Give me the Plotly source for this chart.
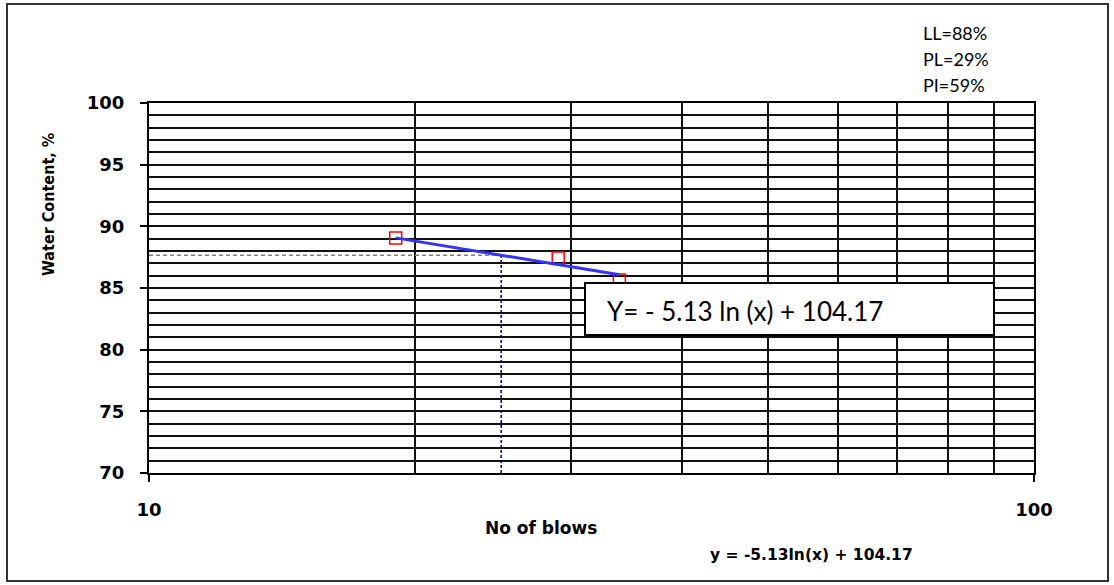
import plotly.graph_objects as go

# Data
blows = [19, 29, 34]
water_content = [89.05, 87.43, 85.65]

slope = -5.13
intercept = 104.17
ll_blows = 25

import math
trend_x = [blows[0], blows[-1]]
trend_y = [slope * math.log(v) + intercept for v in trend_x]
ll_value = slope * math.log(ll_blows) + intercept

x_major = [10, 100]
x_minor = [20, 30, 40, 50, 60, 70, 80, 90]

W, H = 1114, 585
L, R, T, B = 149, 80, 103, 112
PW, PH = W - L - R, H - T - B


def px(x):
    return (x - L) / PW


def py(y):
    return (H - B - y) / PH


fig = go.Figure()

fig.add_trace(go.Scatter(
    x=[10, ll_blows], y=[ll_value, ll_value], mode="lines",
    line=dict(color="#808080", width=1.5, dash="4px,3px"),
    showlegend=False, hoverinfo="skip"))
fig.add_trace(go.Scatter(
    x=[ll_blows, ll_blows], y=[70, ll_value], mode="lines",
    line=dict(color="#000080", width=1.5, dash="3px,2px"),
    showlegend=False, hoverinfo="skip"))
fig.add_trace(go.Scatter(
    x=blows, y=water_content, mode="markers",
    marker=dict(symbol="square-open", size=12, color="red",
                line=dict(color="red", width=1.5)),
    showlegend=False))
fig.add_trace(go.Scatter(
    x=trend_x, y=trend_y, mode="lines",
    line=dict(color="#3333ff", width=3),
    showlegend=False))

grid = "#111111"
fig.update_xaxes(
    type="log", range=[1, 2],
    tickmode="array", tickvals=x_major, ticktext=["10", "100"],
    ticks="outside", ticklen=7, tickwidth=1.5, tickcolor="black",
    showgrid=True, gridcolor=grid, gridwidth=1.5,
    minor=dict(tickmode="array", tickvals=x_minor, showgrid=True,
               gridcolor=grid, gridwidth=1.5, ticklen=0),
    showline=True, linecolor="black", linewidth=2, mirror=True,
    zeroline=False,
    tickfont=dict(family="DejaVu Sans", size=18, color="black", weight="bold"),
    ticklabelstandoff=12,
)
fig.update_yaxes(
    range=[70, 100], tick0=70, dtick=5,
    ticks="outside", ticklen=7, tickwidth=1.5, tickcolor="black",
    showgrid=True, gridcolor=grid, gridwidth=1.5,
    minor=dict(dtick=1, showgrid=True, gridcolor=grid, gridwidth=1.5, ticklen=0),
    showline=True, linecolor="black", linewidth=2, mirror=True,
    zeroline=False,
    tickfont=dict(family="DejaVu Sans", size=18, color="black", weight="bold"),
    ticklabelstandoff=12,
)

shapes = [
    dict(type="rect", xref="paper", yref="paper",
         x0=px(7), x1=px(1108), y0=py(581), y1=py(4),
         line=dict(color="#333333", width=2), fillcolor="rgba(0,0,0,0)", layer="below"),
    dict(type="rect", xref="paper", yref="paper",
         x0=px(585), x1=px(994), y0=py(335), y1=py(283),
         line=dict(color="black", width=2), fillcolor="white", layer="above"),
]

annotations = [
    dict(text="Y= - 5.13 ln (x) + 104.17", xref="paper", yref="paper",
         x=px(605), y=py(311), xanchor="left", yanchor="middle", showarrow=False,
         font=dict(family="Lato", size=26, color="black")),
    dict(text="LL=88%", xref="paper", yref="paper", x=px(921), y=py(33),
         xanchor="left", yanchor="middle", showarrow=False,
         font=dict(family="Lato", size=18, color="black")),
    dict(text="PL=29%", xref="paper", yref="paper", x=px(921), y=py(59),
         xanchor="left", yanchor="middle", showarrow=False,
         font=dict(family="Lato", size=18, color="black")),
    dict(text="PI=59%", xref="paper", yref="paper", x=px(921), y=py(85),
         xanchor="left", yanchor="middle", showarrow=False,
         font=dict(family="Lato", size=18, color="black")),
    dict(text="Water Content, %", xref="paper", yref="paper", x=px(48), y=py(205),
         xanchor="center", yanchor="middle", textangle=-90, showarrow=False,
         font=dict(family="DejaVu Sans Condensed", size=16, color="black", weight="bold")),
    dict(text="No of blows", xref="paper", yref="paper", x=px(541), y=py(528),
         xanchor="center", yanchor="middle", showarrow=False,
         font=dict(family="DejaVu Sans", size=17, color="black", weight="bold")),
    dict(text="y = -5.13ln(x) + 104.17", xref="paper", yref="paper", x=px(811.5), y=py(555),
         xanchor="center", yanchor="middle", showarrow=False,
         font=dict(family="DejaVu Sans", size=15.5, color="black", weight="bold")),
]

fig.update_layout(
    width=W, height=H, autosize=False,
    margin=dict(l=L, r=R, t=T, b=B),
    paper_bgcolor="white", plot_bgcolor="white",
    shapes=shapes, annotations=annotations,
    showlegend=False,
)

fig.write_html("out.html")
